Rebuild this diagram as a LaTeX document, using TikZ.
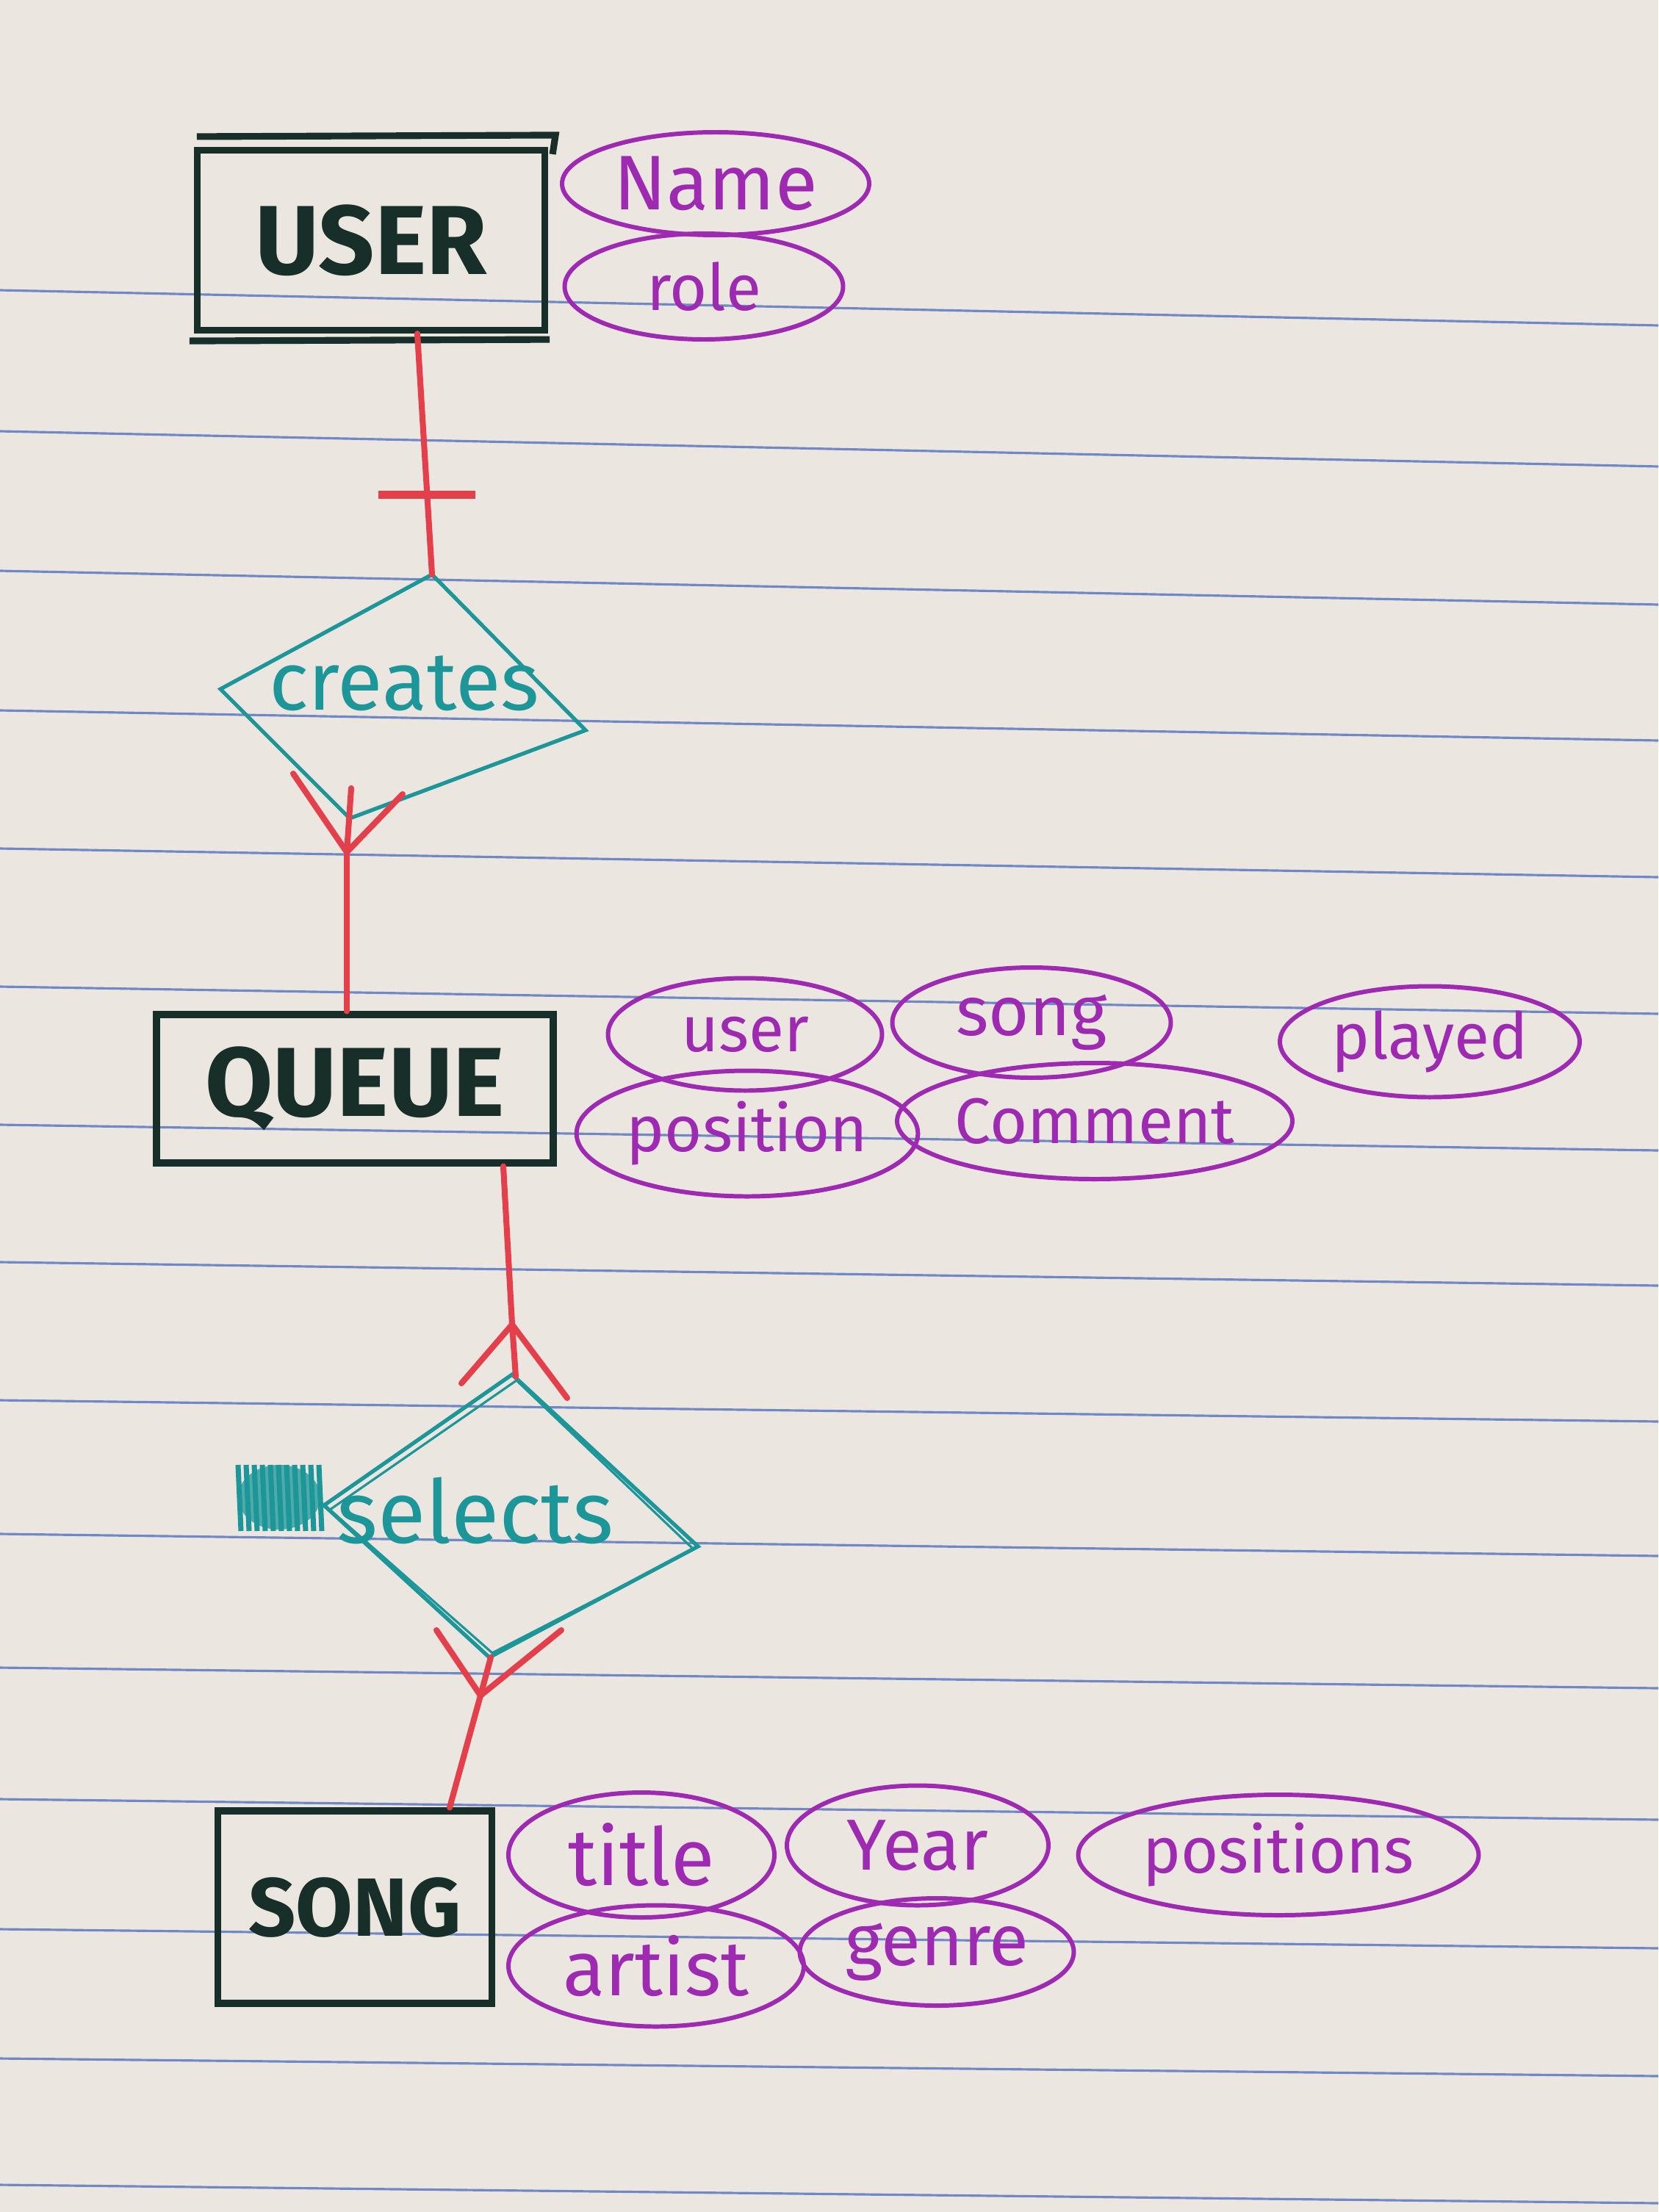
\documentclass[tikz,border=0pt]{standalone}
\usepackage{fontspec}
\setmainfont{Fira Sans}
\usetikzlibrary{shapes.geometric,positioning,calc}
\definecolor{paper}{RGB}{236,230,224}
\definecolor{ruleblue}{RGB}{112,136,196}
\definecolor{inkdark}{RGB}{24,46,40}
\definecolor{redink}{RGB}{228,64,76}
\definecolor{tealink}{RGB}{28,150,152}
\definecolor{purpleink}{RGB}{158,42,178}

\begin{document}
\begin{tikzpicture}[
    entity/.style={rectangle, draw=inkdark, line width=2.6pt, text=inkdark, inner sep=0pt, font=\bfseries\fontsize{38}{44}\selectfont},
    attr/.style={ellipse, draw=purpleink, line width=1.7pt, text=purpleink, inner sep=0pt, font=\fontsize{25}{30}\selectfont},
    rel/.style={draw=tealink, line width=1.5pt},
    reltext/.style={text=tealink, font=\fontsize{32}{38}\selectfont},
    link/.style={draw=redink, line width=2.3pt, line cap=round},
    onebar/.style={rectangle, fill=redink, inner sep=0pt, minimum width=1.32cm, minimum height=0.11cm},
    ruled/.style={draw=ruleblue, line width=0.9pt}
]
    % paper and ruling
    \fill[paper] (0,0) rectangle (22.57,-30.11);
    \useasboundingbox (0,0) rectangle (22.57,-30.11);
    \foreach \a/\b in {3.95/4.43, 5.87/6.35, 7.77/8.23, 9.67/10.08, 11.55/11.94,
                       13.43/13.80, 15.31/15.66, 17.18/17.50, 19.06/19.35, 20.88/21.18,
                       22.70/22.98, 24.49/24.77, 26.26/26.52, 28.02/28.26, 29.74/29.99}
        \draw[ruled] (0,-\a) -- (22.57,-\b);

    % Entity USER
    \node[entity, minimum width=4.73cm, minimum height=2.45cm] (user) at (5.05,-3.27) {USER};
    \draw[inkdark, line width=2.6pt] ([shift={(0.04,0.14)}]user.north west) -- ([shift={(0.10,0.16)}]user.north east)
        -- ([shift={(0.06,-0.10)}]user.north east);
    \draw[inkdark, line width=2.6pt] ([shift={(-0.06,-0.10)}]user.south west) -- ([shift={(0.02,-0.08)}]user.south east);
    \node[attr, minimum width=4.18cm, minimum height=1.40cm, font=\fontsize{30}{34}\selectfont] (name) at (9.74,-2.50) {Name};
    \node[attr, minimum width=3.79cm, minimum height=1.44cm] (role) at (9.58,-3.90) {role};

    % Relationship creates
    \coordinate (cr-w) at (3.00,-9.38);
    \coordinate (cr-n) at (5.88,-7.82);
    \coordinate (cr-e) at (7.97,-9.94);
    \coordinate (cr-s) at (4.76,-11.14);
    \draw[rel] (cr-w) -- (cr-n) -- (cr-e) -- (cr-s) -- cycle;
    \node[reltext] (creates) at (5.50,-9.30) {creates};

    % Entity QUEUE
    \node[entity, minimum width=5.40cm, minimum height=2.02cm] (queue) at (4.83,-14.82) {QUEUE};
    \node[attr, minimum width=3.73cm, minimum height=1.53cm] (quser) at (10.14,-14.08) {user};
    \node[attr, minimum width=3.79cm, minimum height=1.50cm, font=\fontsize{27}{32}\selectfont] (qsong) at (14.04,-13.92) {song};
    \node[attr, minimum width=4.08cm, minimum height=1.51cm] (played) at (19.46,-14.18) {played};
    \node[attr, minimum width=4.44cm, minimum height=1.71cm] (qpos) at (10.17,-15.43) {position};
    \node[attr, minimum width=5.29cm, minimum height=1.58cm] (comment) at (14.90,-15.26) {Comment};

    % Relationship selects
    \coordinate (se-n) at (6.97,-18.71);
    \coordinate (se-w) at (4.41,-20.49);
    \coordinate (se-e) at (9.50,-21.05);
    \coordinate (se-s) at (6.66,-22.56);
    \draw[rel] (se-w) -- (se-n) -- (se-e) -- (se-s) -- cycle;
    \draw[rel, line width=0.9pt] ($(se-w)+(0.08,-0.06)$) -- ($(se-n)+(0.06,-0.08)$) -- ($(se-e)+(-0.06,-0.04)$)
        -- ($(se-s)+(0.04,0.06)$) -- cycle;
    \fill[tealink, opacity=0.75] (3.80,-20.38) ellipse (0.56cm and 0.44cm);
    \foreach \i in {0,...,10}
        \draw[tealink, line width=2pt] ({3.24+0.11*\i},-19.94) -- ({3.28+0.11*\i},-20.84);
    \node[reltext, font=\fontsize{34}{40}\selectfont] (selects) at (6.47,-20.56) {selects};

    % Entity SONG
    \node[entity, minimum width=3.73cm, minimum height=2.62cm, font=\bfseries\fontsize{32}{38}\selectfont] (song) at (4.83,-25.96) {SONG};
    \node[attr, minimum width=3.62cm, minimum height=1.70cm, font=\fontsize{31}{36}\selectfont] (title) at (8.73,-25.25) {title};
    \node[attr, minimum width=3.56cm, minimum height=1.63cm, font=\fontsize{28}{32}\selectfont] (year) at (12.49,-25.12) {Year};
    \node[attr, minimum width=5.45cm, minimum height=1.64cm] (positions) at (17.40,-25.25) {positions};
    \node[attr, minimum width=4.02cm, minimum height=1.65cm, font=\fontsize{30}{34}\selectfont] (artist) at (8.93,-26.76) {artist};
    \node[attr, minimum width=3.73cm, minimum height=1.46cm, font=\fontsize{28}{32}\selectfont] (genre) at (12.75,-26.57) {genre};

    % USER -- creates (one)
    \draw[link] ([xshift=0.63cm]user.south) -- node[pos=0.67, onebar] (one) {} (cr-n);

    % creates -- QUEUE (many)
    \coordinate (cf1) at (4.72,-11.60);
    \draw[link] ([xshift=-0.11cm]queue.north) -- (cf1);
    \draw[link] (cf1) -- ($(cf1)+(-0.73,1.07)$);
    \draw[link] (cf1) -- ($(cf1)+(0.06,0.87)$);
    \draw[link] (cf1) -- ($(cf1)+(0.76,0.79)$);

    % QUEUE -- selects (many)
    \coordinate (cf2) at (6.97,-18.03);
    \draw[link] ([xshift=2.02cm]queue.south) -- (cf2);
    \draw[link] (cf2) -- ($(cf2)+(-0.69,-0.80)$);
    \draw[link] (cf2) -- ($(cf2)+(0.05,-0.71)$);
    \draw[link] (cf2) -- ($(cf2)+(0.75,-1.00)$);

    % selects -- SONG (many)
    \coordinate (cf3) at (6.54,-23.08);
    \draw[link] ([xshift=1.29cm]song.north) -- (cf3);
    \draw[link] (cf3) -- ($(cf3)+(-0.60,0.89)$);
    \draw[link] (cf3) -- ($(cf3)+(0.14,0.52)$);
    \draw[link] (cf3) -- ($(cf3)+(1.10,0.89)$);
\end{tikzpicture}
\end{document}
